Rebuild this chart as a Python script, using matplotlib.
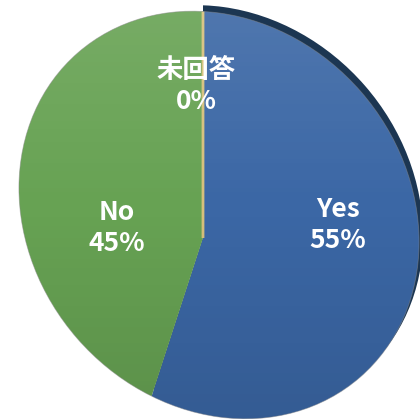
import matplotlib.pyplot as plt
import numpy as np
from matplotlib.patches import Ellipse

# Data
labels = ["Yes", "No", "未回答"]
values = [55, 45, 0]
colors = ["#3B67A5", "#67A253", "#D6C07C"]
side_color = "#1C3652"

plt.rcParams['font.family'] = ['Noto Sans CJK JP', 'DejaVu Sans']

fig = plt.figure(figsize=(4.2, 4.19), dpi=100)
ax = fig.add_axes([0, 0, 1, 1])

# Tilted disc outline (perspective look) and its dark side
disc = Ellipse((219, 204), 430, 376, angle=-49, transform=ax.transData)
side = Ellipse((223, 210), 430, 376, angle=-49, transform=ax.transData)

# Dark side, only under the "Yes" slice
side_wedges, _ = ax.pie(values, startangle=90, counterclock=False, radius=400,
                        center=(203, 181), colors=[side_color, "none", "none"],
                        wedgeprops=dict(linewidth=0), frame=True)
for w in side_wedges:
    w.set_clip_on(True)
    w.set_clip_path(side)

# Main slices
wedges, _ = ax.pie(values, startangle=90, counterclock=False, radius=400,
                   center=(203, 181), colors=colors,
                   wedgeprops=dict(linewidth=0), frame=True)
for w in wedges:
    w.set_clip_on(True)
    w.set_clip_path(disc)
# 0% slice only shows as a thin line
wedges[2].set_edgecolor(colors[2])
wedges[2].set_linewidth(2)

# Soft shading top -> bottom
grad = np.zeros((100, 1, 4))
t = np.linspace(0, 1, 100)
grad[:, 0, :3] = np.where(t[:, None] < 0.5, 1.0, 0.0)
grad[:, 0, 3] = np.abs(t - 0.5) * 0.22
img = ax.imshow(grad, extent=[0, 420, 0, 419], aspect="auto", zorder=3)
img.set_clip_path(disc)

ax.add_patch(Ellipse((219, 204), 430, 376, angle=-49, fill=False,
                     edgecolor="#8a8a8a", linewidth=0.6, alpha=0.5, zorder=3))

ax.set_xlim(0, 420)
ax.set_ylim(0, 419)
ax.axis("off")

# Labels
label_pos = [(338, 194), (117, 191), (196, 333)]
for (x, y), name, v in zip(label_pos, labels, values):
    ax.text(x, y, f"{name}\n{v}%", color="white", fontsize=19, fontweight="bold",
            ha="center", va="center", linespacing=1.2, zorder=4)

plt.savefig("out.png", dpi=100)
plt.close()
